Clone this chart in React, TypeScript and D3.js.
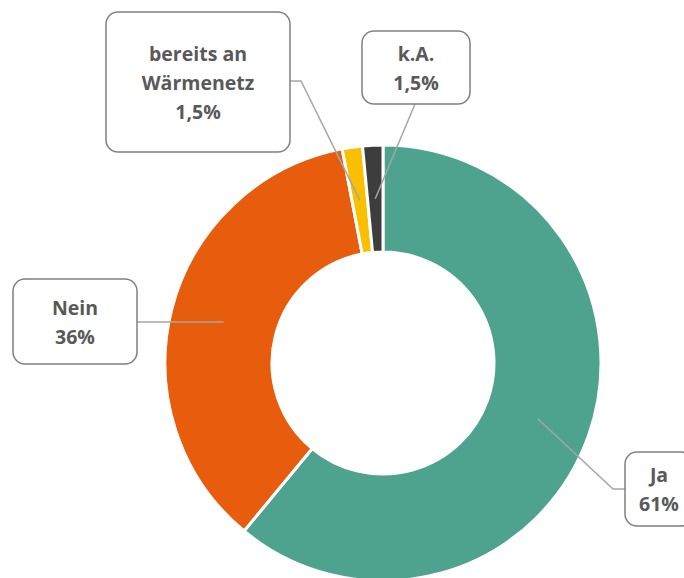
import React from "react";
import * as d3 from "d3";

const categories = ["Ja", "Nein", "bereits an Wärmenetz", "k.A."];
const values = [61, 36, 1.5, 1.5];
const labelLines = [["Ja"], ["Nein"], ["bereits an", "Wärmenetz"], ["k.A."]];
const colors = ["#4EA38F", "#E85C0D", "#F9BF00", "#3D3D3D"];

const W = 684;
const H = 578;
const cx = 383;
const cy = 363;
const outerR = 218;
const innerR = 111;

// label box layout: x, y, w, h, elbow point (where leader leaves box)
const boxes = [
  { x: 625, y: 452, w: 68, h: 74, ex: 625, ey: 489, bx: 613, by: 489 },
  { x: 13, y: 279, w: 124, h: 85, ex: 137, ey: 322, bx: 170, by: 322 },
  { x: 106, y: 12, w: 184, h: 140, ex: 290, ey: 81, bx: 301, by: 81 },
  { x: 362, y: 31, w: 108, h: 73, ex: 415, ey: 104, bx: 415, by: 104 },
];

const de = d3.formatLocale({ decimal: ",", thousands: ".", grouping: [3], currency: ["", "€"] });
const fmt = (v: number) => (Number.isInteger(v) ? de.format("d")(v) : de.format(".1f")(v)) + "%";

export default function App() {
  const pie = d3.pie<number>().sort(null).value((d) => d)(values);
  const arc = d3.arc<d3.PieArcDatum<number>>().innerRadius(innerR).outerRadius(outerR);
  const mid = (innerR + outerR) / 2;
  const lineH = 29;
  return (
    <svg
      width={W}
      height={H}
      style={{ position: "absolute", left: 0, top: 0, fontFamily: "'Open Sans', Lato, sans-serif" }}
    >
      <rect width={W} height={H} fill="#fff" />
      <g transform={`translate(${cx},${cy})`}>
        {pie.map((p, i) => (
          <path key={categories[i]} d={arc(p) || ""} fill={colors[i]} stroke="#fff" strokeWidth={3} />
        ))}
      </g>
      {pie.map((p, i) => {
        const a = (p.startAngle + p.endAngle) / 2;
        const px = cx + mid * Math.sin(a);
        const py = cy - mid * Math.cos(a);
        const b = boxes[i];
        return (
          <polyline
            key={"l" + i}
            points={`${b.ex},${b.ey} ${b.bx},${b.by} ${px},${py}`}
            fill="none"
            stroke="#A6A6A6"
            strokeWidth={1.5}
          />
        );
      })}
      {boxes.map((b, i) => {
        const lines = [...labelLines[i], fmt(values[i])];
        const tcx = b.x + b.w / 2;
        const tcy = b.y + b.h / 2;
        const start = tcy - ((lines.length - 1) * lineH) / 2;
        return (
          <g key={"b" + i}>
            <rect x={b.x} y={b.y} width={b.w} height={b.h} rx={12} fill="#fff" stroke="#808080" strokeWidth={1.5} />
            {lines.map((t, j) => (
              <text
                key={j}
                x={tcx}
                y={start + j * lineH}
                textAnchor="middle"
                dominantBaseline="central"
                fontSize={19.5}
                fontWeight={700}
                fill="#595959"
              >
                {t}
              </text>
            ))}
          </g>
        );
      })}
    </svg>
  );
}
